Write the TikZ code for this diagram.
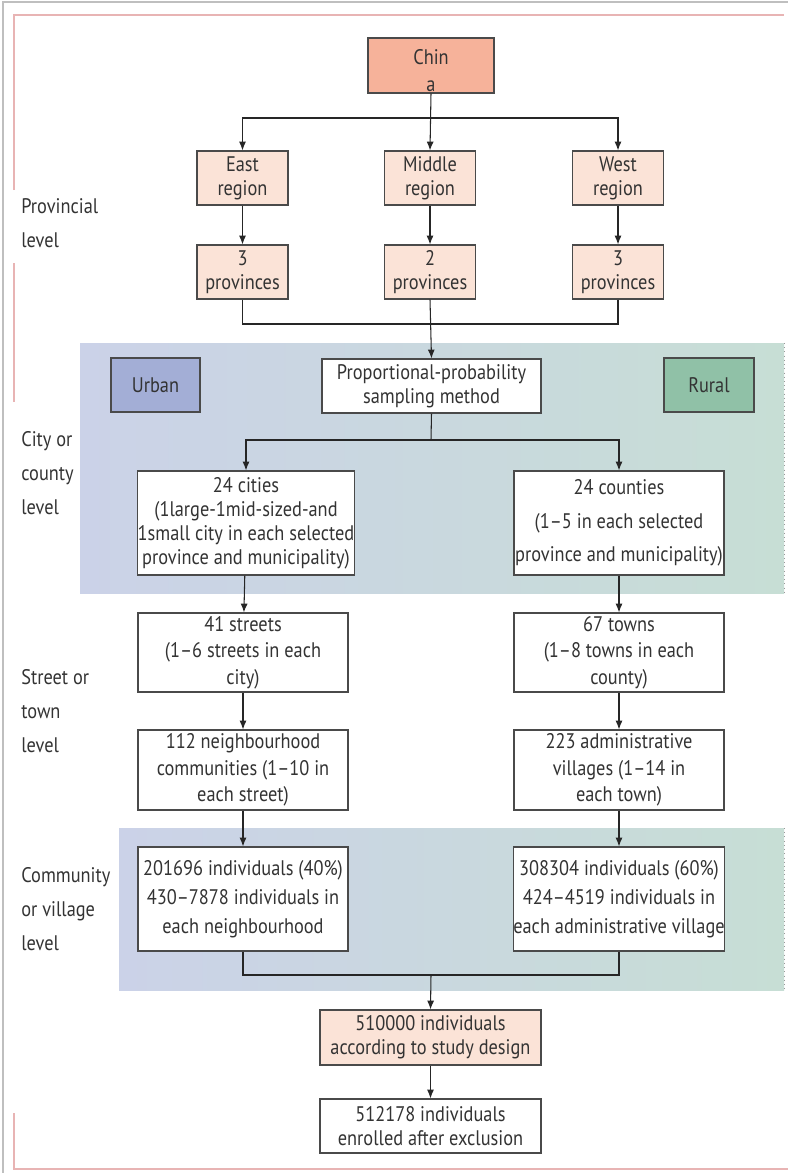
\documentclass[tikz,border=0pt]{standalone}
\usepackage{fontspec}
\setmainfont{PT Sans}[FakeStretch=0.87]
\usepackage{tikz}
\usetikzlibrary{arrows.meta, calc, positioning}

\definecolor{boxline}{HTML}{4A4A4A}
\definecolor{txtcol}{HTML}{333333}
\definecolor{chinafill}{HTML}{F6B29A}
\definecolor{regionfill}{HTML}{FBE3D7}
\definecolor{urbanfill}{HTML}{A3AED6}
\definecolor{ruralfill}{HTML}{90C1A7}
\definecolor{bandleft}{HTML}{CBD2E8}
\definecolor{bandright}{HTML}{C7DED5}
\definecolor{framered}{HTML}{E8B4B4}

\tikzset{
  box/.style={draw=boxline, line width=0.7pt, align=center, inner sep=0pt,
    text=txtcol, font=\fontsize{12}{13.6}\selectfont},
  arr/.style={-{Latex[length=5pt, width=4pt]}, draw=black!85, line width=0.6pt},
  lnk/.style={draw=black!85, line width=0.6pt},
  lvl/.style={anchor=west, align=left, text=txtcol, inner sep=0pt,
    font=\fontsize{12}{19.2}\selectfont}
}

\begin{document}
\begin{tikzpicture}[x=0.02cm, y=-0.02cm]
			\useasboundingbox (0,0) rectangle (788,1173);
			% Draw page frames
			\draw[black!25, line width=0.8pt] (3,1173) -- (3,2) -- (788,2);
			\draw[framered, line width=0.6pt] (14,190) -- (14,15) -- (784,15);
			\draw[framered, line width=0.6pt] (14,263) -- (14,402);
			\draw[framered, line width=0.6pt] (14,1113) -- (14,1169) -- (788,1169);
			
			% Draw shaded bands
			\fill[left color=bandleft, right color=bandright] (80,343) rectangle (784,593);
			\draw[black!40, dotted] (784,343) -- (784,593);
			\fill[left color=bandleft, right color=bandright] (119,828) rectangle (784,990);
			\draw[black!40, dotted] (784,828) -- (784,990);
			
			% Draw level labels
			\node[lvl] (provlvl) at (21,223) {Provincial\\level};
			\node[lvl] (citylvl) at (21,473) {City or\\county\\level};
			\node[lvl] (streetlvl) at (21,711) {Street or\\town\\level};
			\node[lvl] (commlvl) at (21,909) {Community\\or village\\level};
			
			% Draw provincial level
			\node[box, fill=chinafill, minimum width=2.52cm, minimum height=1.1cm, font=\fontsize{12}{15.6}\selectfont] (china) at (431,65.5) {\rule{0pt}{0.5cm}Chin\\a};
			\node[box, fill=regionfill, minimum width=1.82cm, minimum height=1.08cm] (east) at (242.5,178) {East\\region};
			\node[box, fill=regionfill, minimum width=1.82cm, minimum height=1.08cm] (middle) at (430,178) {Middle\\region};
			\node[box, fill=regionfill, minimum width=1.82cm, minimum height=1.08cm] (west) at (618,178) {West\\region};
			\node[box, fill=regionfill, minimum width=1.82cm, minimum height=1.08cm] (provE) at (242.5,272) {3\\provinces};
			\node[box, fill=regionfill, minimum width=1.82cm, minimum height=1.08cm] (provM) at (430,272) {2\\provinces};
			\node[box, fill=regionfill, minimum width=1.82cm, minimum height=1.08cm] (provW) at (618,272) {3\\provinces};
			
			% Draw city or county level
			\node[box, fill=urbanfill, minimum width=1.78cm, minimum height=1.08cm] (urban) at (155.5,385) {Urban};
			\node[box, fill=ruralfill, minimum width=1.8cm, minimum height=1.08cm] (rural) at (709,385) {Rural};
			\node[box, fill=white, minimum width=4.38cm, minimum height=1.08cm] (ppsm) at (431.5,386) {Proportional-probability\\sampling method};
			\node[box, fill=white, minimum width=4.32cm, minimum height=2.08cm] (cities) at (246,523) {24 cities\\(1large-1mid-sized-and\\1small city in each selected\\province and municipality)};
			\node[box, fill=white, minimum width=4.2cm, minimum height=2.08cm, font=\fontsize{12}{19}\selectfont] (counties) at (619,523) {24 counties\\(1--5 in each selected\\province and municipality)};
			
			% Draw street or town level
			\node[box, fill=white, minimum width=4.2cm, minimum height=1.58cm, font=\fontsize{12}{15}\selectfont] (streets) at (243,652.5) {41 streets\\(1--6 streets in each\\city)};
			\node[box, fill=white, minimum width=4.2cm, minimum height=1.58cm, font=\fontsize{12}{15}\selectfont] (towns) at (619,652.5) {67 towns\\(1--8 towns in each\\county)};
			\node[box, fill=white, minimum width=4.2cm, minimum height=1.6cm, font=\fontsize{12}{15}\selectfont] (nbhd) at (243,770) {112 neighbourhood\\communities (1--10 in\\each street)};
			\node[box, fill=white, minimum width=4.2cm, minimum height=1.6cm, font=\fontsize{12}{15}\selectfont] (admin) at (619,770) {223 administrative\\villages (1--14 in\\each town)};
			
			% Draw community or village level
			\node[box, fill=white, minimum width=4.2cm, minimum height=2.08cm, font=\fontsize{12}{16.5}\selectfont] (urbind) at (243,899) {201696 individuals (40\%)\\430--7878 individuals in\\each neighbourhood};
			\node[box, fill=white, minimum width=4.2cm, minimum height=2.08cm, font=\fontsize{12}{16.5}\selectfont] (rurind) at (619,899) {308304 individuals (60\%)\\424--4519 individuals in\\each administrative village};
			
			% Draw totals
			\node[box, fill=regionfill, minimum width=4.42cm, minimum height=1.1cm] (design) at (430.5,1037.5) {510000 individuals\\according to study design};
			\node[box, fill=white, minimum width=4.42cm, minimum height=1.08cm] (enrolled) at (430.5,1126) {512178 individuals\\enrolled after exclusion};
			
			% Draw connectors
			\coordinate (split1) at (431,118);
			\coordinate (join1) at (431,324);
			\coordinate (split2) at (431,440);
			\coordinate (join2) at (431,975);
			\draw[arr] (china.south) -- (middle.north);
			\draw[arr] (split1) -| (east.north);
			\draw[arr] (split1) -| (west.north);
			\draw[arr] (east) -- (provE);
			\draw[arr] (middle) -- (provM);
			\draw[arr] (west) -- (provW);
			\draw[lnk] (provE.south) |- (join1);
			\draw[lnk] (provW.south) |- (join1);
			\draw[arr] (provM.south) -- (ppsm.north);
			\draw[lnk] (ppsm.south) -- (split2);
			\draw[arr] (split2) -| (cities.north);
			\draw[arr] (split2) -| (counties.north);
			\draw[arr] (cities) -- (streets);
			\draw[arr] (counties) -- (towns);
			\draw[arr] (streets) -- (nbhd);
			\draw[arr] (towns) -- (admin);
			\draw[arr] (nbhd) -- (urbind);
			\draw[arr] (admin) -- (rurind);
			\draw[lnk] (urbind.south) |- (join2);
			\draw[lnk] (rurind.south) |- (join2);
			\draw[arr] (join2) -- (design.north);
			\draw[arr] (design) -- (enrolled);
		\end{tikzpicture}
\end{document}
